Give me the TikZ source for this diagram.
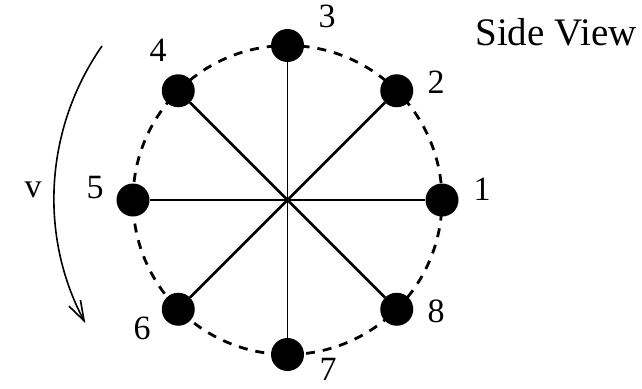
\documentclass[tikz,border=0pt]{standalone}
\usepackage{fontspec}
\setmainfont{Liberation Serif}
\usetikzlibrary{arrows.meta}
\begin{document}
\begin{tikzpicture}[x=1pt,y=1pt,
  dot/.style={circle,fill=black,minimum size=33pt,inner sep=0pt},
  lbl/.style={inner sep=0pt,font=\fontsize{34}{40}\selectfont},
  title/.style={inner sep=0pt,font=\fontsize{39}{44}\selectfont},
  thinspoke/.style={line width=1.6pt},
  diagspoke/.style={line width=2.6pt},
  rim/.style={line width=2.8pt,dash pattern=on 9pt off 7.97pt},
  motion/.style={line width=1.6pt,-{Straight Barb[length=20pt,width=13pt,line width=1.6pt]}},
]
\useasboundingbox (0,0) rectangle (642,-388);
\coordinate (c) at (287.5,-200);
\draw[rim] (c) circle[radius=154.5pt];
\node[dot] (n1) at ([shift={(0:154.5)}]c) {};
\node[dot] (n2) at ([shift={(45:154.5)}]c) {};
\node[dot] (n3) at ([shift={(90:154.5)}]c) {};
\node[dot] (n4) at ([shift={(135:154.5)}]c) {};
\node[dot] (n5) at ([shift={(180:154.5)}]c) {};
\node[dot] (n6) at ([shift={(225:154.5)}]c) {};
\node[dot] (n7) at ([shift={(270:154.5)}]c) {};
\node[dot] (n8) at ([shift={(315:154.5)}]c) {};
\draw[thinspoke] (c) -- (n1);
\draw[thinspoke] (c) -- (n3);
\draw[thinspoke] (c) -- (n5);
\draw[thinspoke] (c) -- (n7);
\draw[diagspoke] (c) -- (n2);
\draw[diagspoke] (c) -- (n4);
\draw[diagspoke] (c) -- (n6);
\draw[diagspoke] (c) -- (n8);
\node[lbl] (l1) at (482,-189) {1};
\node[lbl] (l2) at (436,-82) {2};
\node[lbl] (l3) at (327,-16) {3};
\node[lbl] (l4) at (158,-50) {4};
\node[lbl] (l5) at (95,-187.5) {5};
\node[lbl] (l6) at (142,-328) {6};
\node[lbl] (l7) at (328,-369) {7};
\node[lbl] (l8) at (436,-311) {8};
\node[lbl] (lv) at (33,-190) {v};
\node[title] (side) at (556,-32) {Side View};
\coordinate (vs) at (102,-46);
\draw[motion] (vs) arc[start angle=145.1, end angle=208, radius=266pt];
\end{tikzpicture}
\end{document}
